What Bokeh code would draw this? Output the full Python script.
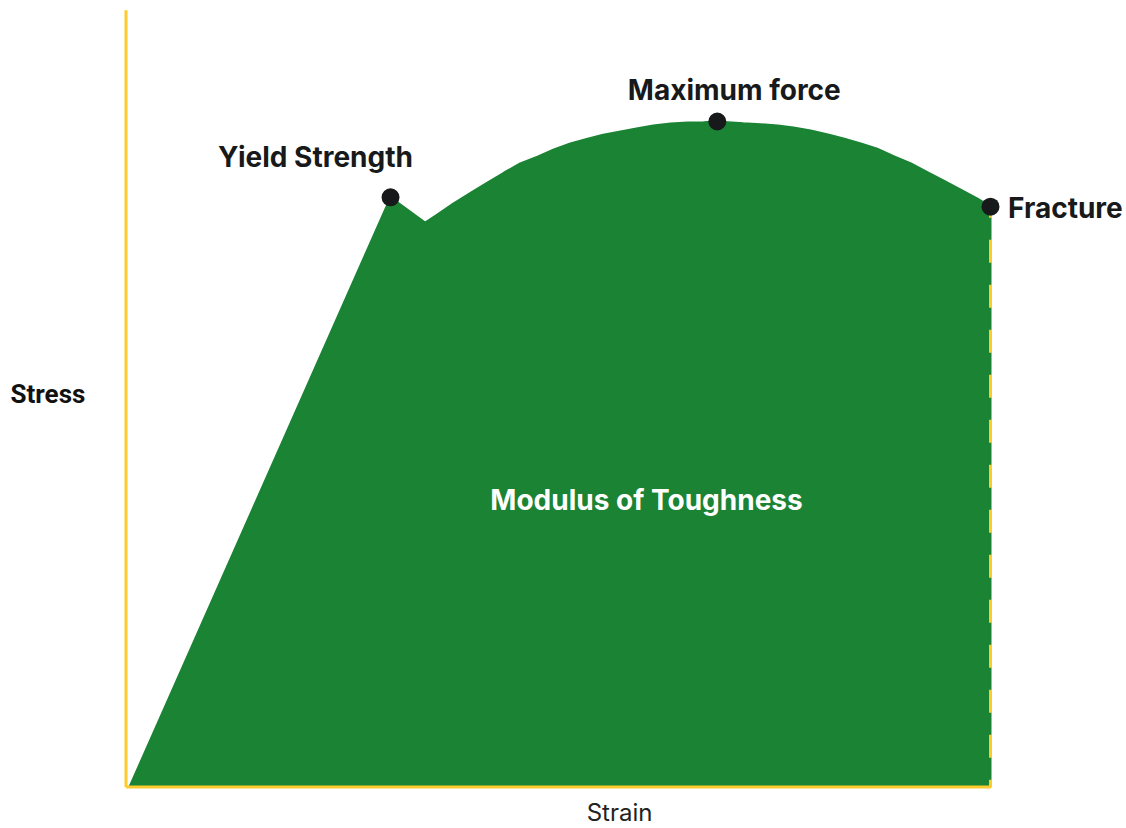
from bokeh.plotting import figure
from bokeh.models import Range1d, ColumnDataSource
from bokeh.core.properties import value
from bokeh.embed import file_html
from bokeh.resources import INLINE

# --- data (arbitrary units: strain 0..100 at fracture, stress 100 at max force) ---
curve_strain = [0.4, 30.6, 34.6, 36.0, 37.9, 39.9, 41.8, 43.7, 45.6, 47.6, 49.5,
                51.4, 53.4, 55.2, 57.2, 59.2, 61.0, 63.0, 65.0, 66.8, 68.4,
                69.6, 71.4, 73.4, 75.4, 77.2, 79.2, 81.2, 83.0, 85.0, 86.9,
                88.8, 90.8, 92.7, 94.6, 96.5, 98.5, 100.0]
curve_stress = [0.0, 88.6, 84.8, 86.0, 87.7, 89.3, 90.8, 92.3, 93.7, 94.7, 95.8,
                96.7, 97.4, 98.0, 98.5, 99.0, 99.4, 99.7, 99.85, 99.9, 100.0,
                99.9, 99.75, 99.6, 99.4, 99.1, 98.65, 98.05, 97.45, 96.7, 95.9,
                94.8, 93.7, 92.4, 91.1, 89.8, 88.4, 87.2]

point_names = ["Yield Strength", "Maximum force", "Fracture"]
point_strain = [30.6, 68.4, 100.0]
point_stress = [88.6, 100.0, 87.2]

axis_label_x = "Strain"
axis_label_y = "Stress"
area_label = "Modulus of Toughness"

GREEN = "#1a8334"
YELLOW = "#fdcb2d"
DOT = "#17191a"

W, H = 1126, 828
p = figure(width=W, height=H, output_backend="svg", toolbar_location=None,
           x_range=Range1d(-14.517, 115.732), y_range=Range1d(-6.236, 118.18),
           min_border=0, min_border_left=0, min_border_right=0,
           min_border_top=0, min_border_bottom=0)
p.axis.visible = False
p.grid.visible = False
p.outline_line_color = None
p.background_fill_color = "white"

# filled area under curve
xs = curve_strain + [curve_strain[-1], curve_strain[0]]
ys = curve_stress + [0.0, 0.0]
p.patch(xs, ys, fill_color=GREEN, line_color=GREEN, line_width=2)

# dashed fracture line
p.line([point_strain[2], point_strain[2]], [point_stress[2], 0], line_color=YELLOW,
       line_width=3, line_dash="23 22", line_dash_offset=12)

# axes lines
p.line([0, 0], [0, 116.7], line_color=YELLOW, line_width=3)
p.line([0, 100.08], [0, 0], line_color=YELLOW, line_width=3)

# points
src = ColumnDataSource(dict(x=point_strain, y=point_stress, name=point_names,
                            xo=[-75, 17, 17.5], yo=[-40, -31.5, 1],
                            al=["center", "center", "left"]))
p.scatter("x", "y", source=src, size=18, fill_color=DOT, line_color=None)
p.text("x", "y", text="name", source=src, x_offset="xo", y_offset="yo",
       text_align="al", text_baseline="middle", text_font=value("Inter"),
       text_font_style="bold", text_font_size="28px", text_color=DOT)

# axis labels
p.text([57.09], [0], text=[axis_label_x], y_offset=26, text_align="center",
       text_baseline="middle", text_font=value("Inter"), text_font_size="24px",
       text_color="#222222")
p.text([-14.517], [59.05], text=[axis_label_y], x_offset=10, text_align="left",
       text_baseline="middle", text_font=value("Roboto"), text_font_style="bold",
       text_font_size="26px", text_color="#111111")

# area label
p.text([60.21], [43.13], text=[area_label], text_align="center",
       text_baseline="middle", text_font=value("Inter"), text_font_style="bold",
       text_font_size="28px", text_color="white")

open("out.html", "w").write(file_html(p, INLINE))
